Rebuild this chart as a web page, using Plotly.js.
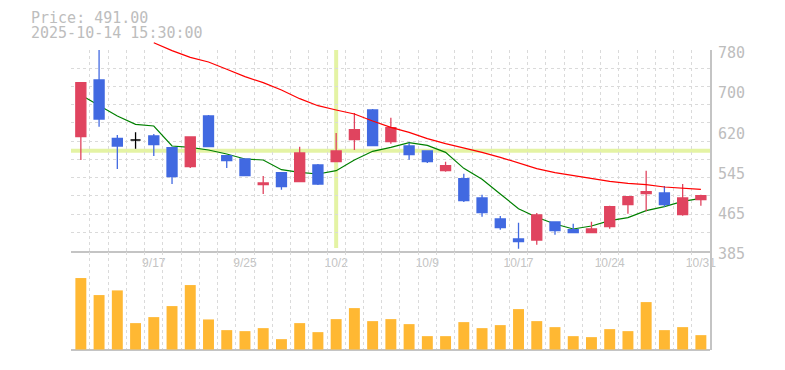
<!DOCTYPE html>
<html><head><meta charset="utf-8">
<script src="https://cdn.plot.ly/plotly-3.0.1.min.js"></script>
<style>html,body{margin:0;padding:0;background:#fff}#chart{width:785px;height:370px}</style>
</head><body><div id="chart"></div>
<script>
// ---- data ----
const dates = ['9/10','9/11','9/12','9/16','9/17','9/18','9/19','9/22','9/24','9/25','9/26','9/29','9/30','10/1','10/2','10/3','10/6','10/7','10/8','10/9','10/10','10/14','10/15','10/16','10/17','10/20','10/21','10/22','10/23','10/24','10/27','10/28','10/29','10/30','10/31'];
const openP  = [609.4,721.0,606.2,602.9,610.7,587.8,550.4,650.1,572.0,565.5,515.0,538.6,520.9,553.7,560.2,603.5,661.9,599.6,591.1,581.2,542.5,526.8,488.7,447.4,408.0,406.1,441.5,426.4,420.5,432.3,475.6,497.3,498.6,455.9,485.5];
const highP  = [715.7,782.0,612.7,618.0,614.7,589.8,608.8,652.1,572.0,565.5,532.0,539.9,589.8,555.6,616.7,656.0,663.9,646.8,597.6,581.2,560.2,536.6,495.3,453.3,440.2,459.2,441.5,438.2,442.1,473.6,492.7,542.5,512.4,516.3,495.3];
const lowP   = [563.5,629.1,545.8,585.8,571.4,516.3,547.8,589.8,547.8,532.7,496.6,505.1,520.9,514.3,560.2,583.2,591.7,595.6,564.2,557.6,540.6,480.9,452.0,426.4,389.0,396.9,416.6,419.2,420.5,428.4,457.9,462.5,471.7,454.0,473.6];
const closeP = [715.7,644.2,591.1,602.9,593.7,530.7,608.8,589.8,562.2,532.7,518.3,511.0,577.3,516.3,581.2,623.2,591.7,627.1,574.0,560.2,552.4,483.5,459.9,430.4,402.8,455.3,424.4,420.5,427.7,471.7,491.4,501.2,475.6,488.7,493.3];
const volume = [214,163,177,79,97,130,193,90,58,55,64,31,79,52,91,124,85,91,76,40,40,82,64,73,121,85,67,40,37,61,55,142,58,67,43];
const maShort = [691.4,670.4,650.1,633.7,630.4,591.1,588.4,583.2,575.3,565.5,563.5,544.5,539.3,536.0,542.5,563.5,580.6,588.4,597.6,592.4,578.6,547.1,525.5,496.6,467.7,450.7,437.6,427.7,433.6,444.2,450.0,463.8,471.7,482.2,488.1];
const maLong = [null,null,null,null,794.4,778.7,765.6,756.4,742.0,727.5,715.7,701.3,684.2,670.4,661.9,654.0,640.3,627.8,618.0,605.5,595.7,587.8,578.6,568.8,558.3,546.5,538.6,532.7,526.8,521.5,517.6,515.0,510.4,508.4,505.8];
const labelDates = ['9/17','9/25','10/2','10/9','10/17','10/24','10/31'];
const priceLabels = ['385','465','545','620','700','780'];
const priceMin = 385, priceMax = 780;
const crossDate = '10/2', crossPrice = 581.6;
const headerLines = ['Price: 491.00','2025-10-14 15:30:00'];

// ---- layout geometry ----
const W = 785, H = 370, M = {l:71, r:75, t:20, b:20};
const plotH = H - M.t - M.b;
const priceTopPx = 50, priceBotPx = 250.7, volTopPx = 252, volBotPx = 350;
const fy = px => (H - M.b - px) / plotH;
const priceDom = [fy(priceBotPx), fy(priceTopPx)];
const volDom = [0, fy(volTopPx)];
const perPx = (priceMax - priceMin) / (priceBotPx - priceTopPx);
const maTop = priceMin + perPx * (priceBotPx - M.t);

const idx = dates.map((d, i) => i);
const xRange = [-0.54, dates.length - 0.5];
const RED = '#e0445f', BLUE = '#4169e1', GRID = '#dadada', AX = '#c4c4c4', CROSS = '#e4f3a4';
const monoFont = {family: 'DejaVu Sans Mono', size: 15, color: '#bdbdbd'};

const isDoji = i => openP[i] === closeP[i];
const normIdx = idx.filter(i => !isDoji(i));
const dojiIdx = idx.filter(i => isDoji(i));
const pick = (arr, ids) => ids.map(i => arr[i]);
const crossIdx = dates.indexOf(crossDate);

const traces = [
  {type:'scatter', mode:'lines', x: idx, y: maShort, xaxis:'x', yaxis:'y',
   line:{color:'#008000', width:1.2}, hoverinfo:'skip', showlegend:false},
  {type:'bar', x: idx, y: volume, xaxis:'x', yaxis:'y3', marker:{color:'#ffb833', line:{width:0}},
   hoverinfo:'skip', showlegend:false},
  {type:'candlestick', x: pick(idx, normIdx), open: pick(openP, normIdx), high: pick(highP, normIdx),
   low: pick(lowP, normIdx), close: pick(closeP, normIdx), xaxis:'x', yaxis:'y2',
   increasing:{line:{color:RED, width:1.3}, fillcolor:RED},
   decreasing:{line:{color:BLUE, width:1.3}, fillcolor:BLUE}, whiskerwidth:0,
   hoverinfo:'skip', showlegend:false},
  {type:'candlestick', x: pick(idx, dojiIdx), open: pick(openP, dojiIdx), high: pick(highP, dojiIdx),
   low: pick(lowP, dojiIdx), close: pick(closeP, dojiIdx), xaxis:'x', yaxis:'y2',
   increasing:{line:{color:'#000', width:1.3}, fillcolor:'#000'},
   decreasing:{line:{color:'#000', width:1.3}, fillcolor:'#000'}, whiskerwidth:0,
   hoverinfo:'skip', showlegend:false},
  {type:'scatter', mode:'lines', x: idx, y: maLong, xaxis:'x3', yaxis:'y4',
   line:{color:'#ff0000', width:1.2}, hoverinfo:'skip', showlegend:false, connectgaps:false}
];

const layout = {
  width: W, height: H, margin: M,
  paper_bgcolor:'#fff', plot_bgcolor:'rgba(0,0,0,0)',
  showlegend:false, boxgap:0.45, boxgroupgap:0, bargap:0.4, dragmode:false,
  xaxis: {domain:[0,1], range:xRange, anchor:'y', fixedrange:true,
    rangeslider:{visible:false},
    tickmode:'array', tickvals: labelDates.map(d => dates.indexOf(d)), ticktext: labelDates,
    ticks:'', showgrid:false, zeroline:false,
    tickfont:{family:'Liberation Sans', size:12, color:'#c4c4c4'}, ticklabelstandoff:0,
    showline:true, linecolor:AX, linewidth:2,
    minor:{tickmode:'linear', tick0:-0.5, dtick:1, showgrid:true, gridcolor:GRID, gridwidth:1, griddash:'3px,3px', ticks:''}},
  yaxis: {domain:priceDom, range:[priceMin, priceMax], anchor:'x', side:'right', fixedrange:true,
    tickmode:'linear', tick0:priceMin, dtick:(priceMax - priceMin)/11,
    showgrid:true, gridcolor:GRID, gridwidth:1, griddash:'3px,3px',
    showticklabels:false, ticks:'', zeroline:false, showline:true, linecolor:AX, linewidth:2},
  yaxis2: {overlaying:'y', range:[priceMin, priceMax], side:'right', anchor:'x', fixedrange:true,
    tickmode:'array', tickvals: priceLabels.map((t, k) => priceMin + k*(priceMax - priceMin)/(priceLabels.length - 1)),
    ticktext: priceLabels, showgrid:false, zeroline:false, showline:false, ticks:'',
    tickfont: monoFont, ticklabelstandoff:7, ticklabelshift:3},
  yaxis3: {domain:volDom, range:[-1.5, 292], anchor:'x', side:'right', fixedrange:true,
    showgrid:false, showticklabels:false, ticks:'', zeroline:true, zerolinecolor:AX, zerolinewidth:2,
    showline:true, linecolor:AX, linewidth:2},
  xaxis3: {domain:[0,1], range:xRange, anchor:'y4', visible:false, fixedrange:true},
  yaxis4: {domain:[priceDom[0], 1], range:[priceMin, maTop], anchor:'x3', visible:false, fixedrange:true},
  shapes: [
    {type:'line', xref:'paper', yref:'y', x0:0, x1:1, y0:crossPrice, y1:crossPrice,
     line:{color:CROSS, width:4}, layer:'below'},
    {type:'line', xref:'x', yref:'paper', x0:crossIdx, x1:crossIdx,
     y0:priceDom[0] + 0.008, y1:priceDom[1],
     line:{color:CROSS, width:4}, layer:'below'}
  ],
  annotations: headerLines.map((t, k) => ({
    text:t, xref:'paper', yref:'paper', x:0, y:1, xanchor:'left', yanchor:'middle',
    xshift: 29 - M.l, yshift: [2.5, -13][k], showarrow:false, font: monoFont
  }))
};

Plotly.newPlot('chart', traces, layout, {staticPlot:true, displayModeBar:false});
</script>
</body></html>
